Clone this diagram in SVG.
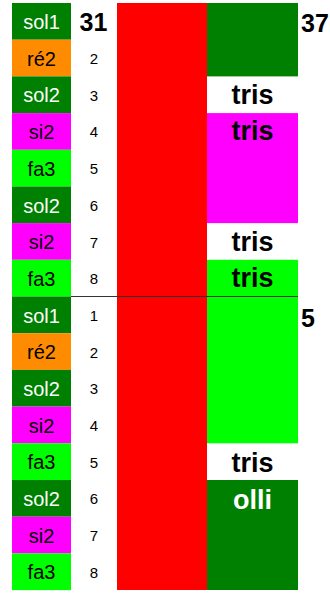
<svg xmlns="http://www.w3.org/2000/svg" width="330" height="594" viewBox="0 0 330 594">
<style>
.lab{font-family:"Liberation Sans",Arial,sans-serif;font-size:20px;text-anchor:middle}
.num{font-family:"Liberation Sans",Arial,sans-serif;font-size:15px;text-anchor:middle;fill:#000}
.big{font-family:"Liberation Sans",Arial,sans-serif;font-size:25px;font-weight:bold;fill:#000}
.bt{font-family:"Liberation Sans",Arial,sans-serif;font-size:27px;font-weight:bold;text-anchor:middle}
.dg{fill:#008000}.or{fill:#FF8C00}.mg{fill:#FF00FF}.lm{fill:#00FF00}
.w{fill:#fff}.k{fill:#000}
</style>
<rect width="330" height="594" fill="#fff"/>
<g id="notes">
<g id="n1"><rect class="dg" x="12" y="3" width="59" height="36.7"/><text class="lab w" x="41.5" y="29">sol1</text></g>
<g id="n2"><rect class="or" x="12" y="39.7" width="59" height="36.7"/><text class="lab k" x="41.5" y="65.7">ré2</text></g>
<g id="n3"><rect class="dg" x="12" y="76.4" width="59" height="36.7"/><text class="lab w" x="41.5" y="102.4">sol2</text></g>
<g id="n4"><rect class="mg" x="12" y="113.1" width="59" height="36.7"/><text class="lab k" x="41.5" y="139.1">si2</text></g>
<g id="n5"><rect class="lm" x="12" y="149.8" width="59" height="36.7"/><text class="lab k" x="41.5" y="175.8">fa3</text></g>
<g id="n6"><rect class="dg" x="12" y="186.5" width="59" height="36.7"/><text class="lab w" x="41.5" y="212.5">sol2</text></g>
<g id="n7"><rect class="mg" x="12" y="223.1" width="59" height="36.7"/><text class="lab k" x="41.5" y="249.1">si2</text></g>
<g id="n8"><rect class="lm" x="12" y="259.8" width="59" height="36.7"/><text class="lab k" x="41.5" y="285.8">fa3</text></g>
<g id="n9"><rect class="dg" x="12" y="296.5" width="59" height="36.7"/><text class="lab w" x="41.5" y="322.5">sol1</text></g>
<g id="n10"><rect class="or" x="12" y="333.2" width="59" height="36.7"/><text class="lab k" x="41.5" y="359.2">ré2</text></g>
<g id="n11"><rect class="dg" x="12" y="369.9" width="59" height="36.7"/><text class="lab w" x="41.5" y="395.9">sol2</text></g>
<g id="n12"><rect class="mg" x="12" y="406.6" width="59" height="36.7"/><text class="lab k" x="41.5" y="432.6">si2</text></g>
<g id="n13"><rect class="lm" x="12" y="443.3" width="59" height="36.7"/><text class="lab k" x="41.5" y="469.3">fa3</text></g>
<g id="n14"><rect class="dg" x="12" y="480" width="59" height="36.7"/><text class="lab w" x="41.5" y="506">sol2</text></g>
<g id="n15"><rect class="mg" x="12" y="516.7" width="59" height="36.7"/><text class="lab k" x="41.5" y="542.7">si2</text></g>
<g id="n16"><rect class="lm" x="12" y="553.4" width="59" height="36.7"/><text class="lab k" x="41.5" y="579.4">fa3</text></g>
</g>
<g id="numbers">
<text class="big" x="93.5" y="31" text-anchor="middle">31</text>
<text class="num" x="94" y="64">2</text>
<text class="num" x="94" y="100.7">3</text>
<text class="num" x="94" y="137.4">4</text>
<text class="num" x="94" y="174.1">5</text>
<text class="num" x="94" y="210.8">6</text>
<text class="num" x="94" y="247.5">7</text>
<text class="num" x="94" y="284.2">8</text>
<text class="num" x="94" y="320.9">1</text>
<text class="num" x="94" y="357.6">2</text>
<text class="num" x="94" y="394.3">3</text>
<text class="num" x="94" y="431">4</text>
<text class="num" x="94" y="467.7">5</text>
<text class="num" x="94" y="504.4">6</text>
<text class="num" x="94" y="541.1">7</text>
<text class="num" x="94" y="577.8">8</text>
</g>
<g id="red"><rect x="117" y="3" width="90" height="587" fill="#FF0000"/></g>
<g id="right">
<g id="r1"><rect class="dg" x="207" y="3" width="91" height="73.4"/></g>
<g id="r2"><text class="bt k" x="252.5" y="104">tris</text></g>
<g id="r3"><rect class="mg" x="207" y="113.1" width="91" height="110"/><text class="bt k" x="252.5" y="140">tris</text></g>
<g id="r4"><text class="bt k" x="252.5" y="251">tris</text></g>
<g id="r5"><rect class="lm" x="207" y="259.8" width="91" height="183.5"/><text class="bt k" x="252.5" y="287">tris</text></g>
<g id="r6"><text class="bt k" x="252.5" y="472">tris</text></g>
<g id="r7"><rect class="dg" x="207" y="480" width="91" height="110"/><text class="bt w" x="252.5" y="509">olli</text></g>
<text class="big" x="301" y="32">37</text>
<text class="big" x="301" y="327">5</text>
</g>
<g id="connectors"><line x1="71" y1="296.5" x2="298" y2="296.5" stroke="#333" stroke-width="1"/></g>
</svg>
